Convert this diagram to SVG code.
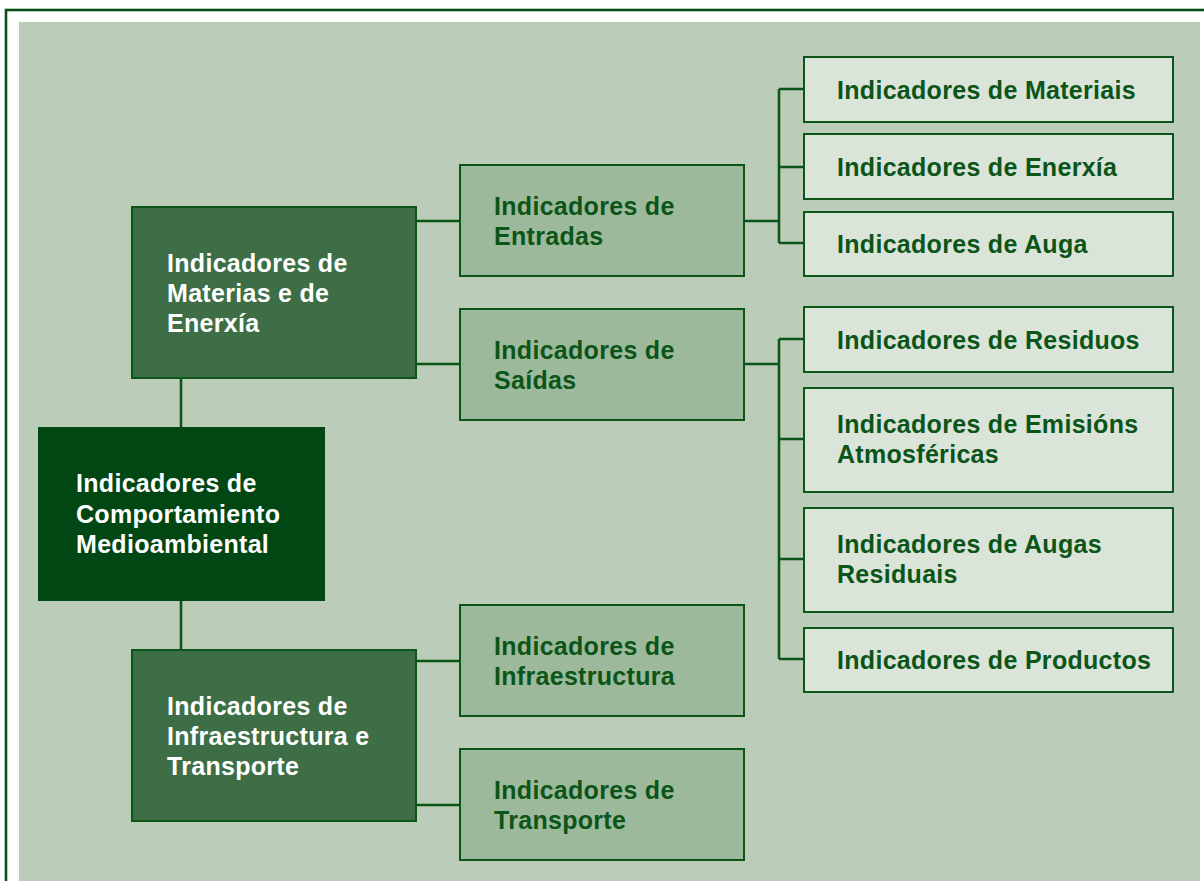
<svg xmlns="http://www.w3.org/2000/svg" width="1204" height="881" viewBox="0 0 1204 881">
<style>
.t{font-family:"Liberation Sans",Arial,Helvetica,sans-serif;font-weight:bold;font-size:25px;letter-spacing:0.3px}
.w{fill:#ffffff}
.g{fill:#0B5518}
.root{fill:#004713}
.l1{fill:#3D6E45;stroke:#0B5518;stroke-width:2}
.l2{fill:#9DB99B;stroke:#0B5518;stroke-width:2}
.l3{fill:#DAE4D8;stroke:#0B5518;stroke-width:2}
.c{fill:none;stroke:#0B5518;stroke-width:2.6}
</style>
<rect x="0" y="0" width="1204" height="881" fill="#ffffff"/>
<rect x="6" y="10" width="1220" height="900" fill="none" stroke="#0A4F17" stroke-width="2.6"/>
<rect x="19" y="22" width="1181" height="870" fill="#BBCDB9"/>
<g id="connectors">
<path class="c" d="M181,379V427M181,601V649"/>
<path class="c" d="M416,221H459M416,364H459M416,661H459M416,805H459"/>
<path class="c" d="M744,221H779M779,89V243M779,89H803M779,167H803M779,243H803"/>
<path class="c" d="M744,364H779M779,339V659M779,339H803M779,439H803M779,559H803M779,659H803"/>
</g>
<g id="n-root">
<rect class="root" x="38" y="427" width="287" height="174"/>
<text class="t w" x="76" y="492">Indicadores de</text>
<text class="t w" x="76" y="523">Comportamiento</text>
<text class="t w" x="76" y="553">Medioambiental</text>
</g>
<g id="n-materias">
<rect class="l1" x="132" y="207" width="284" height="171"/>
<text class="t w" x="167" y="272">Indicadores de</text>
<text class="t w" x="167" y="302">Materias e de</text>
<text class="t w" x="167" y="332">Enerxía</text>
</g>
<g id="n-infratransp">
<rect class="l1" x="132" y="650" width="284" height="171"/>
<text class="t w" x="167" y="715">Indicadores de</text>
<text class="t w" x="167" y="745">Infraestructura e</text>
<text class="t w" x="167" y="775">Transporte</text>
</g>
<g id="n-entradas">
<rect class="l2" x="460" y="165" width="284" height="111"/>
<text class="t g" x="494" y="215">Indicadores de</text>
<text class="t g" x="494" y="245">Entradas</text>
</g>
<g id="n-saidas">
<rect class="l2" x="460" y="309" width="284" height="111"/>
<text class="t g" x="494" y="359">Indicadores de</text>
<text class="t g" x="494" y="389">Saídas</text>
</g>
<g id="n-infra">
<rect class="l2" x="460" y="605" width="284" height="111"/>
<text class="t g" x="494" y="655">Indicadores de</text>
<text class="t g" x="494" y="685">Infraestructura</text>
</g>
<g id="n-transporte">
<rect class="l2" x="460" y="749" width="284" height="111"/>
<text class="t g" x="494" y="799">Indicadores de</text>
<text class="t g" x="494" y="829">Transporte</text>
</g>
<g id="n-materiais">
<rect class="l3" x="804" y="57" width="369" height="65"/>
<text class="t g" x="837" y="99">Indicadores de Materiais</text>
</g>
<g id="n-enerxia">
<rect class="l3" x="804" y="134" width="369" height="65"/>
<text class="t g" x="837" y="176">Indicadores de Enerxía</text>
</g>
<g id="n-auga">
<rect class="l3" x="804" y="212" width="369" height="64"/>
<text class="t g" x="837" y="253">Indicadores de Auga</text>
</g>
<g id="n-residuos">
<rect class="l3" x="804" y="307" width="369" height="65"/>
<text class="t g" x="837" y="349">Indicadores de Residuos</text>
</g>
<g id="n-emisions">
<rect class="l3" x="804" y="388" width="369" height="104"/>
<text class="t g" x="837" y="433">Indicadores de Emisións</text>
<text class="t g" x="837" y="463">Atmosféricas</text>
</g>
<g id="n-augas">
<rect class="l3" x="804" y="508" width="369" height="104"/>
<text class="t g" x="837" y="553">Indicadores de Augas</text>
<text class="t g" x="837" y="583">Residuais</text>
</g>
<g id="n-productos">
<rect class="l3" x="804" y="628" width="369" height="64"/>
<text class="t g" x="837" y="669">Indicadores de Productos</text>
</g>
</svg>
